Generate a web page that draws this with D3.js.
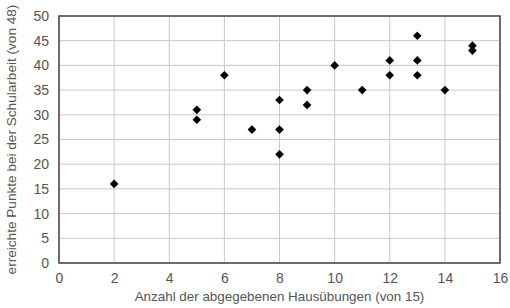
<!DOCTYPE html>
<html lang="en">
<head>
  <meta charset="UTF-8">
  <title>Hausübungen vs. Schularbeit</title>
  <style>
    body { margin: 0; background: #fff; }
    text { font-family: "Liberation Sans", Arial, sans-serif; fill: #555; }
  </style>
</head>
<body>
  <script src="https://d3js.org/d3.v7.min.js"></script>
  <script>
    // abgegebene Hausübungen / erreichte Punkte
    const hausuebungen = [2, 5, 5, 6, 7, 8, 8, 8, 9, 9, 10, 11, 12, 12, 13, 13, 13, 14, 15, 15];
    const punkte =       [16, 31, 29, 38, 27, 33, 27, 22, 35, 32, 40, 35, 41, 38, 46, 41, 38, 35, 44, 43];
    const xTicks = [0, 2, 4, 6, 8, 10, 12, 14, 16];
    const yTicks = [0, 5, 10, 15, 20, 25, 30, 35, 40, 45, 50];

    const width = 510, height = 308;
    const margin = { top: 16, right: 10, bottom: 45, left: 59 };

    const svg = d3.select('body')
      .append('svg')
      .attr('width', width)
      .attr('height', height);

    const x = d3.scaleLinear().domain([0, 16]).range([margin.left, width - margin.right]);
    const y = d3.scaleLinear().domain([0, 50]).range([height - margin.bottom, margin.top]);

    // grid
    svg.append('g')
      .selectAll('line.v')
      .data(xTicks)
      .join('line')
      .attr('x1', d => x(d)).attr('x2', d => x(d))
      .attr('y1', y(0)).attr('y2', y(50))
      .attr('stroke', '#c8c8c8').attr('stroke-width', 1);

    svg.append('g')
      .selectAll('line.h')
      .data(yTicks)
      .join('line')
      .attr('x1', x(0)).attr('x2', x(16))
      .attr('y1', d => y(d)).attr('y2', d => y(d))
      .attr('stroke', '#c8c8c8').attr('stroke-width', 1);

    // frame
    svg.append('rect')
      .attr('x', x(0)).attr('y', y(50))
      .attr('width', x(16) - x(0)).attr('height', y(0) - y(50))
      .attr('fill', 'none')
      .attr('stroke', '#444').attr('stroke-width', 1.5);

    // axes (labels only)
    const xAxis = svg.append('g')
      .attr('transform', `translate(0,${y(0)})`)
      .call(d3.axisBottom(x).tickValues(xTicks).tickSize(0).tickPadding(10));
    const yAxis = svg.append('g')
      .attr('transform', `translate(${x(0)},0)`)
      .call(d3.axisLeft(y).tickValues(yTicks).tickSize(0).tickPadding(10));

    [xAxis, yAxis].forEach(g => {
      g.select('.domain').remove();
      g.selectAll('text')
        .attr('font-size', 14)
        .attr('font-family', '"Liberation Sans", Arial, sans-serif')
        .attr('fill', '#555');
    });

    // axis titles
    svg.append('text')
      .attr('x', (x(0) + x(16)) / 2)
      .attr('y', 301)
      .attr('text-anchor', 'middle')
      .attr('font-size', 13.4)
      .text('Anzahl der abgegebenen Hausübungen (von 15)');

    svg.append('text')
      .attr('transform', `translate(16,${(y(0) + y(50)) / 2}) rotate(-90)`)
      .attr('text-anchor', 'middle')
      .attr('font-size', 13.6)
      .text('erreichte Punkte bei der Schularbeit (von 48)');

    // points
    const symbol = d3.symbol().type(d3.symbolDiamond2).size(48);
    svg.append('g')
      .selectAll('path')
      .data(hausuebungen.map((h, i) => ({ h, p: punkte[i] })))
      .join('path')
      .attr('d', symbol)
      .attr('transform', d => `translate(${x(d.h)},${y(d.p)})`)
      .attr('fill', '#000');
  </script>
</body>
</html>
